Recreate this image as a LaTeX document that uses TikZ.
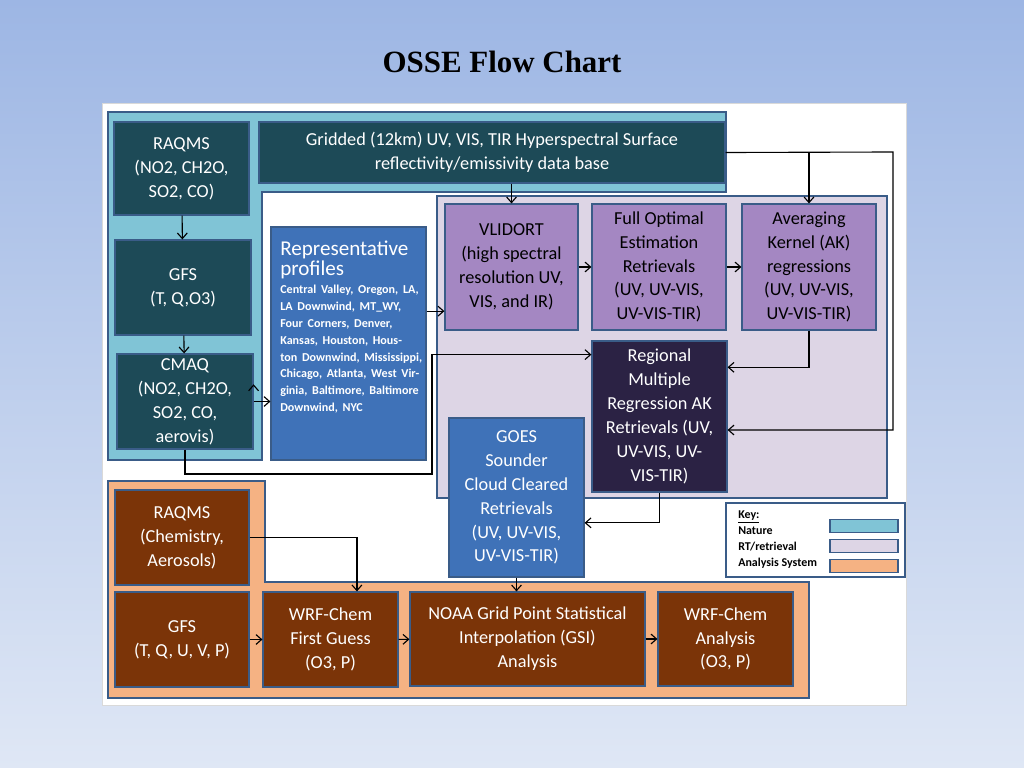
\documentclass[tikz,border=0pt]{standalone}
\usepackage{fontspec}
\setmainfont{Carlito}
\newfontfamily\titlefont{Liberation Serif}
\usetikzlibrary{arrows.meta}
\definecolor{bgtop}{HTML}{9DB6E4}
\definecolor{bgbot}{HTML}{DFE7F5}
\definecolor{nature}{HTML}{80C4D6}
\definecolor{rtzone}{HTML}{DDD5E5}
\definecolor{anzone}{HTML}{F5B283}
\definecolor{teal}{HTML}{1D4A57}
\definecolor{repblue}{HTML}{3F72B8}
\definecolor{rtpurple}{HTML}{A487C2}
\definecolor{regdark}{HTML}{2B2244}
\definecolor{brown}{HTML}{7B3408}
\definecolor{edge}{HTML}{3A5C88}
\newcommand\flowbox[7]{\node[#6, minimum width={(#4-#2)*0.025cm}, minimum height={(#5-#3)*0.025cm}] (#1) at ({(#2+#4)/2},{(#3+#5)/2}) {#7};}
\tikzset{
  box/.style={draw=edge, line width=0.8pt, inner sep=1pt, align=center, text=white, font=\fontsize{13}{17}\selectfont},
  natbox/.style={box, fill=teal},
  repbox/.style={box, fill=repblue},
  rtbox/.style={box, fill=rtpurple, text=black},
  regbox/.style={box, fill=regdark},
  anbox/.style={box, fill=brown},
  zone/.style={draw=edge, line width=0.8pt},
  flow/.style={thick, -{Straight Barb[length=4pt,width=7pt]}},
  link/.style={thick}
}
\begin{document}
\begin{tikzpicture}[x=0.025cm,y=-0.025cm]
\shade[top color=bgtop, bottom color=bgbot] (0,0) rectangle (1024,768);
\useasboundingbox (0,0) rectangle (1024,768);
\node[font=\titlefont\bfseries\fontsize{22}{26}\selectfont] (title) at (502,62) {OSSE Flow Chart};
\fill[white, draw=black!15] (102,103) rectangle (906,705);

% zones
\draw[zone, fill=nature] (108,112) -- (726,112) -- (726,192) -- (262,192) -- (262,460) -- (108,460) -- cycle;
\draw[zone, fill=rtzone] (437,196) rectangle (887,498);
\draw[zone, fill=anzone] (108,481) -- (265,481) -- (265,582) -- (809,582) -- (809,698) -- (108,698) -- cycle;

% nature
\flowbox{raq}{114}{122}{249}{215}{natbox}{RAQMS\\(NO2, CH2O,\\SO2, CO)}
\flowbox{grid}{259}{122}{725}{183}{natbox}{Gridded (12km) UV, VIS, TIR Hyperspectral Surface\\reflectivity/emissivity data base}
\flowbox{gfs}{115}{240}{251}{335}{natbox}{GFS\\(T, Q,O3)}
\flowbox{cmaq}{117}{354}{253}{449}{natbox}{CMAQ\\(NO2, CH2O,\\SO2, CO,\\aerovis)}
\flowbox{rep}{271}{227}{426}{460}{repbox}{}
\node[anchor=north west, align=left, text=white, inner sep=0pt, text width=3.7cm] at (280,241)
  {{\fontsize{15}{18}\selectfont Representative\\profiles}\\[1pt]
   {\bfseries\fontsize{8.6}{11.3}\selectfont Central Valley, Oregon, LA, LA Downwind, MT\_WY, Four Corners, Denver, Kansas, Houston, Houston Downwind, Mississippi, Chicago, Atlanta, West Virginia, Baltimore, Baltimore Downwind, NYC}};

% RT / retrieval
\flowbox{vlid}{445}{204}{578}{330}{rtbox}{VLIDORT\\(high spectral\\resolution UV,\\VIS, and IR)}
\flowbox{oe}{592}{204}{726}{330}{rtbox}{Full Optimal\\Estimation\\Retrievals\\(UV, UV-VIS,\\UV-VIS-TIR)}
\flowbox{avg}{742}{204}{876}{330}{rtbox}{Averaging\\Kernel (AK)\\regressions\\(UV, UV-VIS,\\UV-VIS-TIR)}
\flowbox{reg}{592}{341}{727}{492}{regbox}{Regional\\Multiple\\Regression AK\\Retrievals (UV,\\UV-VIS, UV-\\VIS-TIR)}
\flowbox{goes}{449}{418}{584}{577}{repbox}{GOES\\Sounder\\Cloud Cleared\\Retrievals\\(UV, UV-VIS,\\UV-VIS-TIR)}

% analysis
\flowbox{raqb}{115}{490}{249}{585}{anbox}{RAQMS\\(Chemistry,\\Aerosols)}
\flowbox{gfsb}{115}{592}{249}{687}{anbox}{GFS\\(T, Q, U, V, P)}
\flowbox{fg}{263}{592}{398}{687}{anbox}{WRF-Chem\\First Guess\\(O3, P)}
\flowbox{gsi}{410}{592}{645}{686}{anbox}{NOAA Grid Point Statistical\\Interpolation (GSI)\\Analysis}
\flowbox{ana}{658}{592}{793}{686}{anbox}{WRF-Chem\\Analysis\\(O3, P)}

% key
\node[draw=edge, fill=white, line width=0.8pt, minimum width=179*0.025cm, minimum height=74*0.025cm] (key) at (815.5,540) {};
\node[anchor=north west, align=left, inner sep=0pt, font=\bfseries\fontsize{8.5}{11.5}\selectfont] (keytxt) at (738,510) {\underline{Key:}\\Nature\\RT/retrieval\\Analysis System};
\node[zone, fill=nature, minimum width=68*0.025cm, minimum height=13*0.025cm] (knat) at (864,526) {};
\node[zone, fill=rtzone, minimum width=68*0.025cm, minimum height=13*0.025cm] (krt) at (864,546) {};
\node[zone, fill=anzone, minimum width=68*0.025cm, minimum height=13*0.025cm] (kan) at (864,566) {};

% connectors
\draw[flow] (raq) -- (gfs);
\draw[flow] (gfs) -- (cmaq);
\draw[flow] (cmaq.east |- rep.west) ++(0,-29pt) coordinate (c1);
\draw[flow] ([yshift=-0pt]cmaq.east) -- (cmaq.east -| rep.west);
\draw[flow] ([yshift=23pt]rep.east) -- ([yshift=23pt]rep.east -| vlid.west);
\draw[flow] (vlid) -- (oe);
\draw[flow] (oe) -- (avg);
\draw[flow] (vlid.north |- grid.south) -- (vlid.north);
\coordinate (rc) at (893,152);
\draw[flow] (grid.east) -| (avg.north);
\draw[flow] (grid.east) -- (rc) |- ([yshift=-9.6pt]reg.east);
\draw[flow] (avg.south) |- ([yshift=35pt]reg.east);
\coordinate (cb) at (185,474);
\coordinate (cr) at (432,474);
\draw[flow] (cmaq.south) -- (cb) -- (cr) |- ([yshift=44pt]reg.west);
\draw[flow] (reg.south) |- ([yshift=-18pt]goes.east);
\draw[flow] (goes.south) -- (goes.south |- gsi.north);
\draw[flow] (raqb.east) -| ([xshift=18.8pt]fg.north);
\draw[flow] (gfsb) -- (fg);
\draw[flow] (fg) -- (gsi);
\draw[flow] (gsi) -- (ana);
\end{tikzpicture}
\end{document}
